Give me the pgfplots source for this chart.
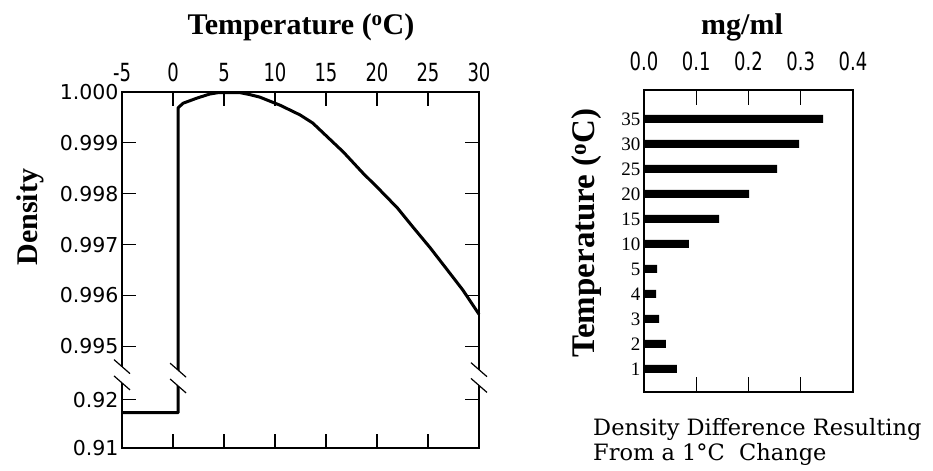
\documentclass[border=0pt]{standalone}
\usepackage{pgfplots}
\pgfplotsset{compat=1.18}
\usepackage{pgfplotstable}
\usepackage{fontspec}
\setmainfont{Liberation Serif}
\newfontfamily\tickfont{DejaVu Sans}
\newfontfamily\condfont[FakeStretch=0.72]{DejaVu Sans}
\newfontfamily\capfont{DejaVu Serif}
\newfontfamily\titlefont{Liberation Serif}

% temperature (deg C) and density (g/ml)
\pgfplotstableread{
t d
-5 0.9173
0.5 0.9173
0.5 0.99969
1.0 0.99978
2.35 0.99988
3.6 0.99996
4.5 0.99999
6.5 0.99999
7.5 0.99995
8.5 0.99990
10.5 0.99974
12.45 0.99955
13.7 0.99939
16.7 0.99882
18.6 0.99841
20.3 0.99807
22.0 0.99772
23.5 0.99735
25.2 0.99694
26.9 0.99650
28.4 0.99611
30.0 0.99563
}\densitydata

% position, density difference (mg/ml)
\pgfplotstableread{
pos val
1 0.063
2 0.042
3 0.029
4 0.023
5 0.025
6 0.086
7 0.144
8 0.201
9 0.255
10 0.297
11 0.343
}\bardata

\newcommand{\brk}[3]{%
  \fill[white] ([shift={(-8bp,7bp)}]axis cs:#1,#2) -- ([shift={(8bp,-7bp)}]axis cs:#1,#2)
     -- ([shift={(8bp,-7bp)}]axis cs:#1,#3) -- ([shift={(-8bp,7bp)}]axis cs:#1,#3) -- cycle;
  \draw[line width=1.2bp] ([shift={(-8bp,7bp)}]axis cs:#1,#2) -- ([shift={(8bp,-7bp)}]axis cs:#1,#2);
  \draw[line width=1.2bp] ([shift={(-8bp,7bp)}]axis cs:#1,#3) -- ([shift={(8bp,-7bp)}]axis cs:#1,#3);
}

\begin{document}
\begin{tikzpicture}
\useasboundingbox (0,0) rectangle (933bp,471bp);
\begin{axis}[at={(122bp,23bp)}, anchor=south west, scale only axis,
 width=357bp, height=356bp,
 xmin=-5, xmax=30, ymin=3, ymax=10,
 xtick={-5,0,5,10,15,20,25,30}, xticklabels={-5,0,5,10,15,20,25,30},
 xticklabel pos=upper,
 xticklabel style={font=\condfont\fontsize{25bp}{30bp}\selectfont, yshift=7bp},
 ytick={3,3.95,5,6,7,8,9,10},
 yticklabels={0.91,0.92,0.995,0.996,0.997,0.998,0.999,1.000},
 yticklabel style={font=\tickfont\fontsize{20.5bp}{24bp}\selectfont},
 tick align=inside, major tick length=14bp,
 tick style={black, line width=1.2bp},
 axis line style={line width=1.2bp},
 clip=false,
]
\addplot[black, line width=3bp, line join=round] table[x=t,
  y expr={\thisrow{d} > 0.99 ? (\thisrow{d}-0.995)*1000+5 : 3+(\thisrow{d}-0.91)*95}] {\densitydata};
\brk{-5}{4.60}{4.28}
\brk{0.5}{4.53}{4.22}
\brk{30}{4.54}{4.23}
\end{axis}

\begin{axis}[at={(644bp,79bp)}, anchor=south west, scale only axis,
 width=209bp, height=302bp,
 xmin=0, xmax=0.4, ymin=0.08, ymax=12.16,
 xtick={0,0.1,0.2,0.3,0.4}, xticklabels={0.0,0.1,0.2,0.3,0.4},
 xticklabel pos=upper,
 xticklabel style={font=\condfont\fontsize{25bp}{30bp}\selectfont, yshift=16bp},
 ytick={1,2,3,4,5,6,7,8,9,10,11},
 yticklabels={1,2,3,4,5,10,15,20,25,30,35},
 yticklabel style={font=\titlefont\fontsize{19bp}{22bp}\selectfont},
 ytick style={draw=none},
 tick align=inside, major tick length=15bp,
 xtick style={black, line width=1.2bp},
 axis line style={line width=1.2bp},
]
\addplot[xbar, fill=black, draw=none, bar width=8bp] table[x=val, y=pos] {\bardata};
\end{axis}

\node[font=\titlefont\bfseries\fontsize{30bp}{36bp}\selectfont, anchor=base] at (301bp,436bp) {Temperature (\textsuperscript{o}C)};
\node[font=\titlefont\bfseries\fontsize{30bp}{36bp}\selectfont, rotate=90] at (30bp,254bp) {Density};
\node[font=\titlefont\bfseries\fontsize{30bp}{36bp}\selectfont, anchor=base] at (742bp,436bp) {mg/ml};
\node[font=\titlefont\bfseries\fontsize{33bp}{38bp}\selectfont, rotate=90] at (587bp,238bp) {Temperature (\textsuperscript{o}C)};
\node[font=\capfont\fontsize{22.5bp}{27bp}\selectfont, anchor=base west, inner sep=0] at (593bp,36bp) {Density Difference Resulting};
\node[font=\capfont\fontsize{22.5bp}{27bp}\selectfont, anchor=base west, inner sep=0] at (593bp,11bp) {From a 1°C\ \ Change};
\end{tikzpicture}
\end{document}
